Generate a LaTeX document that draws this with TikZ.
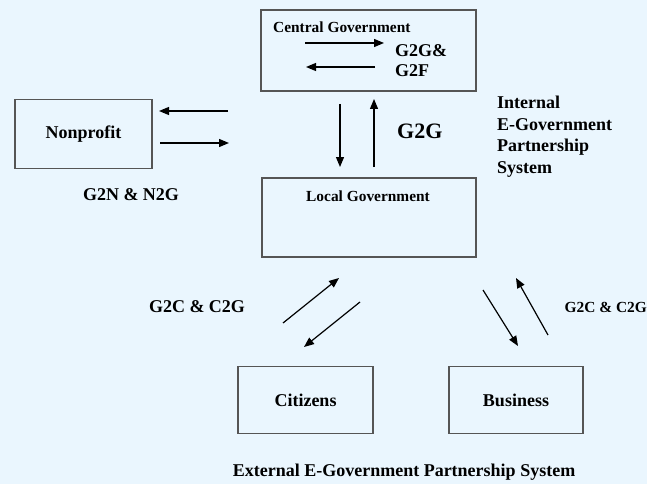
\documentclass[tikz,border=0pt]{standalone}
\usepackage{fontspec}
\setmainfont{Liberation Serif}
\usetikzlibrary{arrows.meta}

\definecolor{paper}{RGB}{234,246,254}
\definecolor{frame}{RGB}{85,85,85}

\begin{document}
\begin{tikzpicture}[%
  x=1pt, y=-1pt,
  box/.style = {draw=frame, line width=1.4pt, inner sep=0pt},
  txt/.style = {font=\fontsize{18}{21.5}\selectfont\bfseries, inner sep=0pt},
  small/.style = {font=\fontsize{15.4}{18}\selectfont\bfseries, inner sep=0pt},
  flow/.style = {->, line width=1.2pt},
  >={Triangle[length=10pt,width=8pt]},
]
  \fill[paper] (0,0) rectangle (647,484);
  \useasboundingbox (0,0) rectangle (647,484);

  % boxes
  \node[box, minimum width=215pt, minimum height=81pt] (central) at (368.5,50.5) {};
  \node[box, minimum width=214pt, minimum height=79pt] (local) at (369,217.5) {};
  \node[box, txt, minimum width=137pt, minimum height=69pt] (nonprofit) at (83.5,134) {Nonprofit};
  \node[box, txt, minimum width=135pt, minimum height=67pt] (citizens) at (305.5,400) {Citizens};
  \node[box, txt, minimum width=134pt, minimum height=67pt] (business) at (516,400) {Business};

  \node[small, anchor=west] (centraltxt) at (273,27) {Central Government};
  \node[small] (localtxt) at (368,196) {Local Government};

  % labels
  \node[txt, anchor=west] (g2ge) at (395,51) {G2G\&};
  \node[txt, anchor=west] (g2f) at (395,71) {G2F};
  \node[txt, anchor=west, font=\fontsize{22}{26}\selectfont\bfseries] (g2g) at (397,131) {G2G};
  \node[txt, anchor=north west, align=left] (internal) at (497,96)
    {Internal\\E-Government\\Partnership\\System};
  \node[txt] (g2n) at (131,195) {G2N \& N2G};
  \node[txt] (g2cl) at (197,307) {G2C \& C2G};
  \node[small, anchor=east] (g2cr) at (647,307) {G2C \& C2G};
  \node[txt] (external) at (404,472) {External E-Government Partnership System};

  % arrow ends
  \coordinate (c1a) at (305,43);  \coordinate (c1b) at (384,43);
  \coordinate (c2a) at (375,67);  \coordinate (c2b) at (306,67);
  \coordinate (n1a) at (228,111); \coordinate (n1b) at (159,111);
  \coordinate (n2a) at (160,143); \coordinate (n2b) at (229,143);
  \coordinate (d1a) at (340,104); \coordinate (d1b) at (340,167);
  \coordinate (u1a) at (374,167); \coordinate (u1b) at (374,99);
  \coordinate (z1a) at (283,323); \coordinate (z1b) at (339,278);
  \coordinate (z2a) at (360,302); \coordinate (z2b) at (304,347);
  \coordinate (b1a) at (483,290); \coordinate (b1b) at (518,346);
  \coordinate (b2a) at (548,335); \coordinate (b2b) at (516,278);

  \draw[flow] (c1a) -- (c1b);
  \draw[flow] (c2a) -- (c2b);
  \draw[flow] (n1a) -- (n1b);
  \draw[flow] (n2a) -- (n2b);
  \draw[flow] (d1a) -- (d1b);
  \draw[flow] (u1a) -- (u1b);
  \draw[flow] (z1a) -- (z1b);
  \draw[flow] (z2a) -- (z2b);
  \draw[flow] (b1a) -- (b1b);
  \draw[flow] (b2a) -- (b2b);

\end{tikzpicture}
\end{document}
